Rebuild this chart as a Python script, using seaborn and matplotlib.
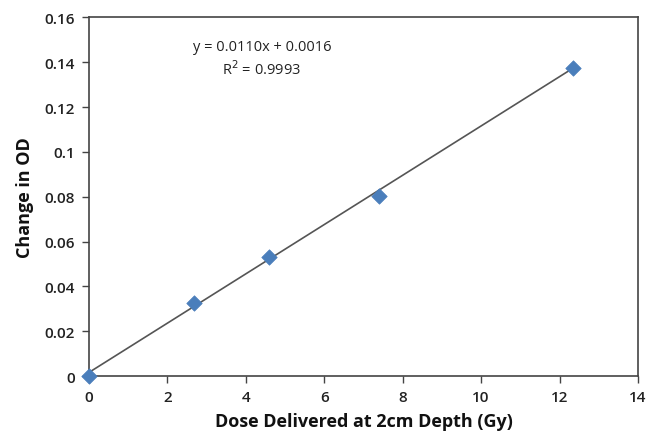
import matplotlib
matplotlib.use("Agg")
import matplotlib.pyplot as plt
import numpy as np
import pandas as pd
import seaborn as sns

# Measured dose and optical density change
dose_gy = [0.0, 2.69, 4.6, 7.4, 12.35]
delta_od = [0.0, 0.0324, 0.053, 0.0805, 0.1375]

# Linear fit parameters
slope = 0.0110
intercept = 0.0016
r_squared = 0.9993

x_ticks = [0, 2, 4, 6, 8, 10, 12, 14]
y_ticks = [0, 0.02, 0.04, 0.06, 0.08, 0.1, 0.12, 0.14, 0.16]
y_tick_labels = ["0", "0.02", "0.04", "0.06", "0.08", "0.1", "0.12", "0.14", "0.16"]

sns.set_theme(style="white")
plt.rcParams["font.family"] = ["Open Sans", "DejaVu Sans"]

df = pd.DataFrame({"dose": dose_gy, "od": delta_od})
fit_x = [0.0, max(dose_gy)]
fit_df = pd.DataFrame({"dose": fit_x, "od": [slope * v + intercept for v in fit_x]})

fig = plt.figure(figsize=(6.53, 4.39), dpi=100)
ax = fig.add_axes([0.1363, 0.1412, 0.8407, 0.8167])

sns.lineplot(data=fit_df, x="dose", y="od", ax=ax, color="#555555", linewidth=1.2, zorder=2)
sns.scatterplot(data=df, x="dose", y="od", ax=ax, marker="D", s=62, color="#4a7ebb",
                edgecolor="#4a7ebb", linewidth=0.5, zorder=3, clip_on=False)

ax.set_xlim(0, 14)
ax.set_ylim(0, 0.16)
ax.set_xticks(x_ticks)
ax.set_xticklabels([str(t) for t in x_ticks])
ax.set_yticks(y_ticks)
ax.set_yticklabels(y_tick_labels)

for side in ["left", "bottom", "right", "top"]:
    ax.spines[side].set_visible(True)
    ax.spines[side].set_color("#444444")
    ax.spines[side].set_linewidth(1.2)

ax.tick_params(axis="both", direction="out", length=5, width=1.0, color="#444444",
               labelsize=11, labelcolor="#222222", bottom=True, left=True, pad=5)
for lbl in ax.get_xticklabels() + ax.get_yticklabels():
    lbl.set_fontweight("semibold")

ax.set_xlabel("Dose Delivered at 2cm Depth (Gy)", fontsize=13, fontweight="bold",
              color="#111111", labelpad=6)
ax.set_ylabel("Change in OD", fontsize=13, fontweight="bold", color="#111111", labelpad=8)

ax.text(4.41, 0.147, f"y = {slope:.4f}x + {intercept:.4f}", ha="center", va="center",
        fontsize=10.5, color="#222222")
ax.text(4.41, 0.137, f"R$^2$ = {r_squared:.4f}", ha="center", va="center",
        fontsize=10.5, color="#222222")

fig.savefig("out.png", dpi=100)
